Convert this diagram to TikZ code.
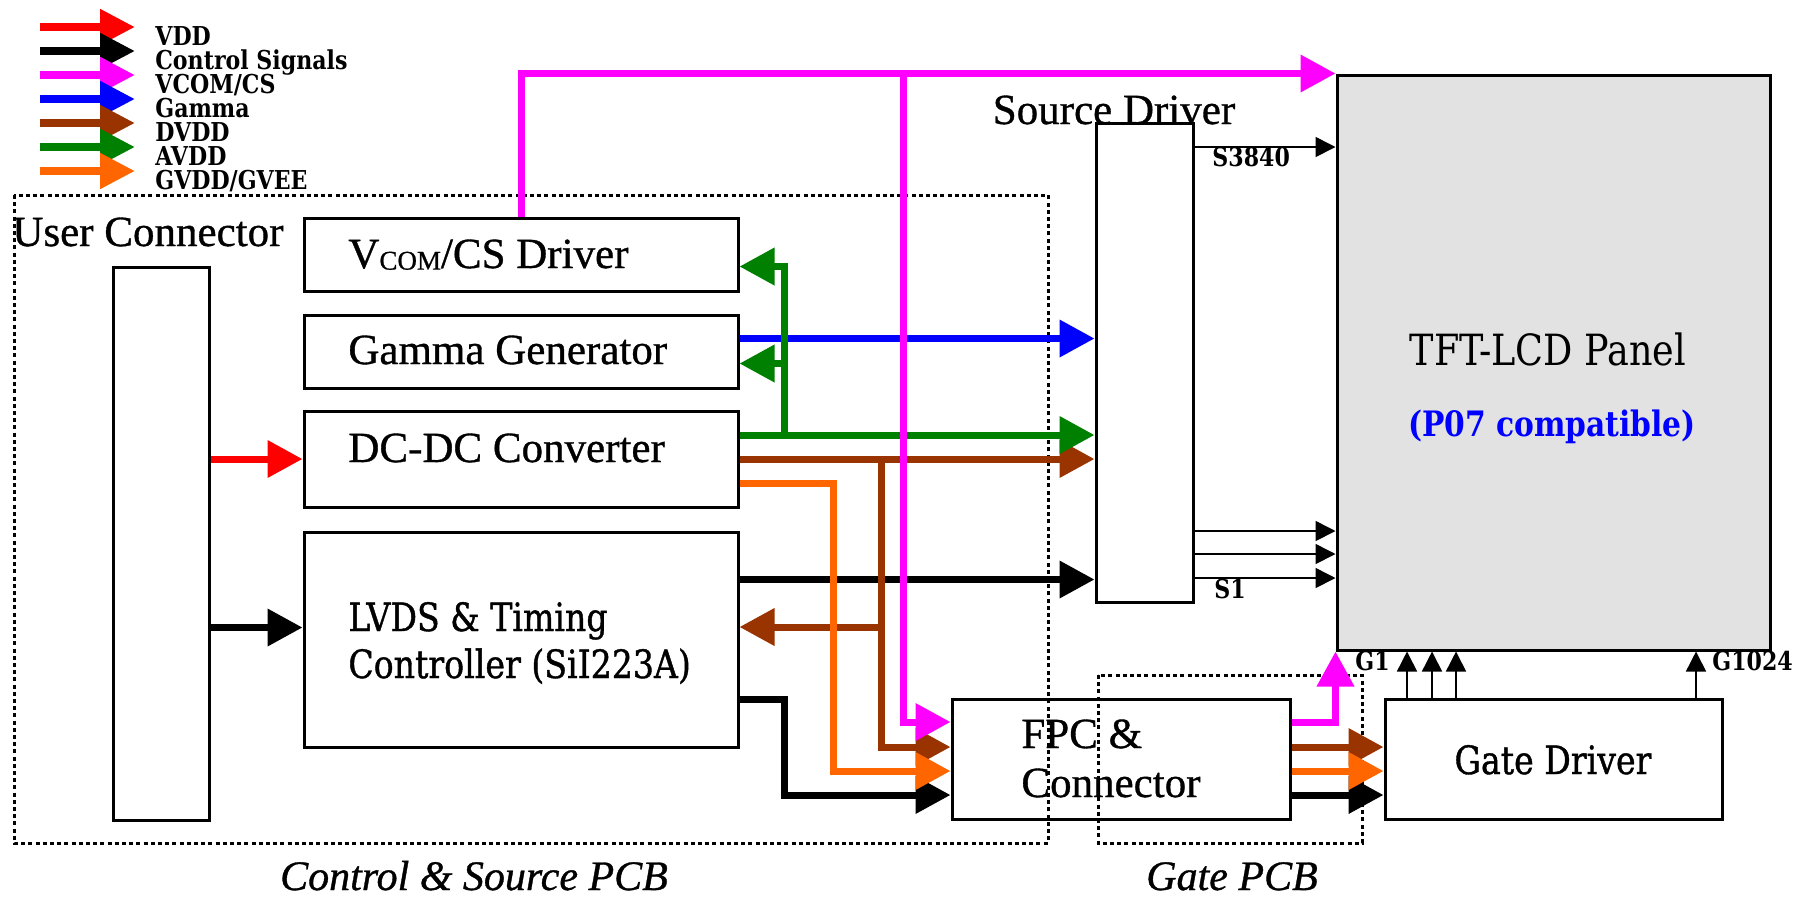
\documentclass[tikz,border=0pt]{standalone}
\usepackage{fontspec}
\setmainfont{Liberation Serif}
\newfontfamily\heavy[FakeBold=0.8]{Liberation Serif}
\newfontfamily\vera[FakeStretch=0.85]{DejaVu Serif}
\newfontfamily\verasb[FakeStretch=0.85, FakeBold=1]{DejaVu Serif}
\usetikzlibrary{arrows.meta}

\definecolor{vddc}{RGB}{255,0,0}
\definecolor{vcomc}{RGB}{255,0,255}
\definecolor{gamc}{RGB}{0,0,255}
\definecolor{dvddc}{RGB}{153,51,0}
\definecolor{avddc}{RGB}{0,128,0}
\definecolor{gvddc}{RGB}{255,102,0}
\definecolor{panelc}{RGB}{226,226,226}

\tikzset{
	blk/.style = {draw, fill=white, line width=1.5pt, minimum width=217pt, inner sep=0pt},
	pcb/.style = {line width=1.5pt, dash pattern=on 2pt off 1.6pt},
	bus/.style = {line width=3.5pt, -{Triangle[length=17.5pt, width=18pt]}},
	wire/.style = {line width=0.8pt, -{Triangle[length=10pt, width=10pt]}},
	big/.style = {font=\heavy\fontsize{21.5}{24}\selectfont, inner sep=0pt},
	wide/.style = {font=\verasb\fontsize{19.5}{23.5}\selectfont, inner sep=0pt},
	tag/.style = {font=\vera\bfseries\fontsize{13}{13}\selectfont, inner sep=0pt}
}

\begin{document}
\begin{tikzpicture}[x=0.5pt, y=-0.5pt]
	\useasboundingbox (0,0) rectangle (1814,896);
	% legend
	\foreach \c/\t [count=\i from 0] in {vddc/VDD, black/Control Signals, vcomc/{VCOM/CS}, gamc/Gamma, dvddc/DVDD, avddc/AVDD, gvddc/{GVDD/GVEE}}
	{
		\draw[\c, line width=4pt, -{Triangle[length=17.5pt, width=17pt]}] (40,{27+24*\i}) -- (135,{27+24*\i});
		\node[tag, anchor=base west] (lg\i) at (155,{45+24*\i}) {\t};
	}
	% blocks
	\node[big, anchor=base] (srclbl) at (1114,124) {Source Driver};
	\node[blk, minimum width=48pt, minimum height=276.5pt] (user) at (161,543.5) {};
	\node[blk, minimum height=36.5pt] (vcom) at (521,254.5) {};
	\node[blk, minimum height=36.5pt] (gamma) at (521,351.5) {};
	\node[blk, minimum height=48pt] (dcdc) at (521,459) {};
	\node[blk, minimum height=107.5pt] (lvds) at (521,639.5) {};
	\node[blk, minimum width=48.5pt, minimum height=239.5pt] (src) at (1144.5,362.5) {};
	\node[blk, fill=panelc, minimum width=216.5pt, minimum height=287.5pt] (panel) at (1553.5,362.5) {};
	\node[blk, minimum width=169pt, minimum height=60pt] (fpc) at (1121,759) {};
	\node[blk, minimum width=168.5pt, minimum height=60pt] (gate) at (1553.5,759) {};
	% block texts
	\node[big, anchor=base west] (userlbl) at (12,246) {User Connector};
	\node[big, anchor=base west] (vcomlbl) at (348,268) {V\raisebox{-0.8pt}{\fontsize{13.5}{15}\selectfont COM}/CS Driver};
	\node[big, anchor=base west] (gammalbl) at (348,364) {Gamma Generator};
	\node[big, anchor=base west] (dcdclbl) at (348,462) {DC-DC Converter};
	\node[wide, anchor=base west] (lvdslbl) at (348,631) {LVDS \& Timing};
	\node[wide, anchor=base west] (tconlbl) at (348,678) {Controller (SiI223A)};
	\node[big, anchor=base west] (fpclbl) at (1021,748) {FPC \&};
	\node[big, anchor=base west] (connlbl) at (1021,797) {Connector};
	\node[wide, anchor=base] (gatelbl) at (1553,774) {Gate Driver};
	\node[wide, font=\vera\fontsize{21.5}{25}\selectfont, anchor=base] (panellbl) at (1548,365) {TFT-LCD Panel};
	\node[tag, font=\vera\bfseries\fontsize{17.5}{20}\selectfont, text=gamc, anchor=base] (p07) at (1552,436) {(P07 compatible)};
	% pcb outlines
	\draw[pcb] (14,195) rectangle (1048,843);
	\draw[pcb] (1098,675) rectangle (1362,843);
	\node[big, font=\heavy\itshape\fontsize{21}{24}\selectfont, anchor=base] (cspcb) at (474,890) {Control \& Source PCB};
	\node[big, font=\heavy\itshape\fontsize{21}{24}\selectfont, anchor=base] (gpcb) at (1232,890) {Gate PCB};
	% control signals
	\coordinate (ctout) at ([yshift=30pt]lvds.east);
	\draw[bus] (ctout) -- (ctout -| src.west);
	\draw[bus] ([yshift=-30pt]lvds.east) -- ++(45,0) |- ([yshift=-18pt]fpc.west);
	\coordinate (lvin) at ([yshift=6pt]lvds.west);
	\draw[bus] (user.east |- lvin) -- (lvin);
	\draw[bus] ([yshift=-18pt]fpc.east) -- ([yshift=-18pt]gate.west);
	% dvdd
	\draw[bus, dvddc] (dcdc.east) -- (dcdc.east -| src.west);
	\coordinate (dvj) at ([xshift=71pt]dcdc.east);
	\draw[bus, dvddc] (dvj) |- ([yshift=6pt]fpc.west);
	\coordinate (dvl) at ([yshift=-84pt]dvj);
	\draw[bus, dvddc] (dvl) -- (dvl -| lvds.east);
	\draw[bus, dvddc] ([yshift=6pt]fpc.east) -- ([yshift=6pt]gate.west);
	% gvdd / gvee
	\draw[bus, gvddc] ([yshift=-12pt]dcdc.east) -- ++(94,0) |- ([yshift=-6pt]fpc.west);
	\draw[bus, gvddc] ([yshift=-6pt]fpc.east) -- ([yshift=-6pt]gate.west);
	% gamma
	\coordinate (gmout) at ([yshift=6.5pt]gamma.east);
	\draw[bus, gamc] (gmout) -- (gmout -| src.west);
	% avdd
	\coordinate (avout) at ([yshift=12pt]dcdc.east);
	\draw[bus, avddc] (avout) -- (avout -| src.west);
	\coordinate (avj) at ([xshift=22.5pt]avout);
	\draw[bus, avddc] (avj) |- ([yshift=-6pt]vcom.east);
	\draw[bus, avddc] (avj) |- ([yshift=-6pt]gamma.east);
	% vcom
	\draw[bus, vcomc] (vcom.north) |- (panel.north west);
	\coordinate (vcj) at (903,75);
	\draw[bus, vcomc] (vcj) |- ([yshift=18.5pt]fpc.west);
	\draw[bus, vcomc] ([yshift=18.5pt]fpc.east) -| (panel.south west);
	% vdd
	\draw[bus, vddc] (user.east |- dcdc.west) -- (dcdc.west);
	% source and gate lines
	\foreach \sy in {147,531,554,578}
	\draw[wire] (src.east |- 0,\sy) -- (panel.west |- 0,\sy);
	\foreach \gx in {1407,1432,1456,1696}
	\draw[wire] (gate.north -| \gx,0) -- (panel.south -| \gx,0);
	\node[tag, anchor=base west] (s3840) at (1212,166) {S3840};
	\node[tag, anchor=base west] (s1) at (1214,598) {S1};
	\node[tag, anchor=base west] (g1) at (1355,670) {G1};
	\node[tag, anchor=base west] (g1024) at (1712,670) {G1024};
\end{tikzpicture}
\end{document}
